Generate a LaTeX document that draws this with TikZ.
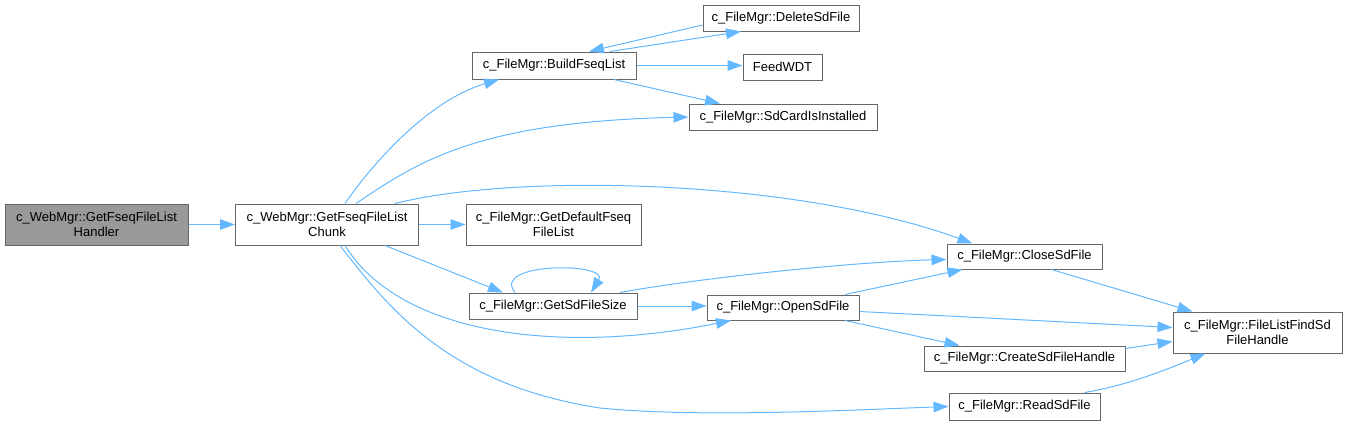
\documentclass[tikz,border=0pt]{standalone}
\usepackage{fontspec}
\setmainfont{Liberation Sans}
\usetikzlibrary{arrows.meta}
\definecolor{edgec}{RGB}{99,184,255}
\definecolor{bordc}{RGB}{102,102,102}
\definecolor{hfill}{RGB}{153,153,153}
\begin{document}
\begin{tikzpicture}[x=1pt,y=-1pt,
  box/.style={draw=bordc,line width=1pt,fill=white,inner sep=0pt,align=center,
    font=\fontsize{13}{15}\selectfont,text=black},
  edge/.style={draw=edgec,line width=1pt,-{Triangle[length=15pt,width=10.5pt]}}]
\useasboundingbox (0,0) rectangle (1347,426);
% nodes (center, width, height)
\node[box,fill=hfill,minimum width=183,minimum height=41] (hand) at (96.5,224.5) {c\_WebMgr::GetFseqFileList\\Handler};
\node[box,minimum width=183,minimum height=41] (chunk) at (327,224.5) {c\_WebMgr::GetFseqFileList\\Chunk};
\node[box,minimum width=156,minimum height=26] (del) at (781,18) {c\_FileMgr::DeleteSdFile};
\node[box,minimum width=164,minimum height=27] (build) at (554,65.5) {c\_FileMgr::BuildFseqList};
\node[box,minimum width=79,minimum height=26] (feed) at (782.5,67) {FeedWDT};
\node[box,minimum width=188,minimum height=26] (sdcard) at (783,117) {c\_FileMgr::SdCardIsInstalled};
\node[box,minimum width=175,minimum height=41] (gdef) at (553.5,224.5) {c\_FileMgr::GetDefaultFseq\\FileList};
\node[box,minimum width=168,minimum height=26] (gss) at (553,306) {c\_FileMgr::GetSdFileSize};
\node[box,minimum width=152,minimum height=25] (open) at (783,307.5) {c\_FileMgr::OpenSdFile};
\node[box,minimum width=155,minimum height=25] (close) at (1024.5,256.5) {c\_FileMgr::CloseSdFile};
\node[box,minimum width=169,minimum height=41] (find) at (1257.5,332.5) {c\_FileMgr::FileListFindSd\\FileHandle};
\node[box,minimum width=201,minimum height=25] (create) at (1024.5,358.5) {c\_FileMgr::CreateSdFileHandle};
\node[box,minimum width=151,minimum height=27] (read) at (1024.5,406.5) {c\_FileMgr::ReadSdFile};
% edges
\draw[edge] (hand.east) -- (chunk.west);
\draw[edge] ([xshift=18pt]chunk.north) .. controls (375,160) and (430,100) .. ([xshift=-55pt]build.south);
\draw[edge] ([xshift=29pt]chunk.north) .. controls (420,160) and (480,122) .. (sdcard.west);
\draw[edge] ([xshift=68pt]chunk.north) .. controls (520,172) and (800,180) .. ([xshift=-52pt]close.north);
\draw[edge] (chunk.east) -- (gdef.west);
\draw[edge] ([xshift=58pt]chunk.south) -- ([xshift=-50pt]gss.north);
\draw[edge] ([xshift=18pt]chunk.south) .. controls (400,335) and (560,355) .. ([xshift=-52pt]open.south);
\draw[edge] ([xshift=13pt]chunk.south) .. controls (390,310) and (450,385) .. (600,408) .. controls (700,418) and (850,410) .. (read.west);
\draw[edge] ([xshift=56pt]build.north) -- ([xshift=-40pt]del.south);
\draw[edge] ([yshift=-7pt]del.west) -- ([xshift=35pt]build.north);
\draw[edge] (build.east) -- (build.east -| feed.west);
\draw[edge] ([xshift=60pt]build.south) -- ([xshift=-63pt]sdcard.north);
\draw[edge] ([xshift=-38pt]gss.north) .. controls (490,262) and (610,262) .. ([xshift=38pt]gss.north);
\draw[edge] ([xshift=67pt]gss.north) .. controls (700,278) and (850,262) .. ([yshift=-3pt]close.west);
\draw[edge] (gss.east) -- (gss.east -| open.west);
\draw[edge] ([xshift=62pt]open.north) -- ([xshift=-62pt]close.south);
\draw[edge] ([yshift=-4pt]open.east) -- ([yshift=5pt]find.west);
\draw[edge] ([xshift=62pt]open.south) -- ([xshift=-65pt]create.north);
\draw[edge] ([yshift=10pt]create.east) -- ([yshift=-9pt]find.west);
\draw[edge] ([xshift=27pt]close.south) -- ([xshift=-65pt]find.north);
\draw[edge] ([xshift=60pt]read.north) .. controls (1130,385) and (1170,368) .. ([xshift=-52pt]find.south);
\end{tikzpicture}
\end{document}
